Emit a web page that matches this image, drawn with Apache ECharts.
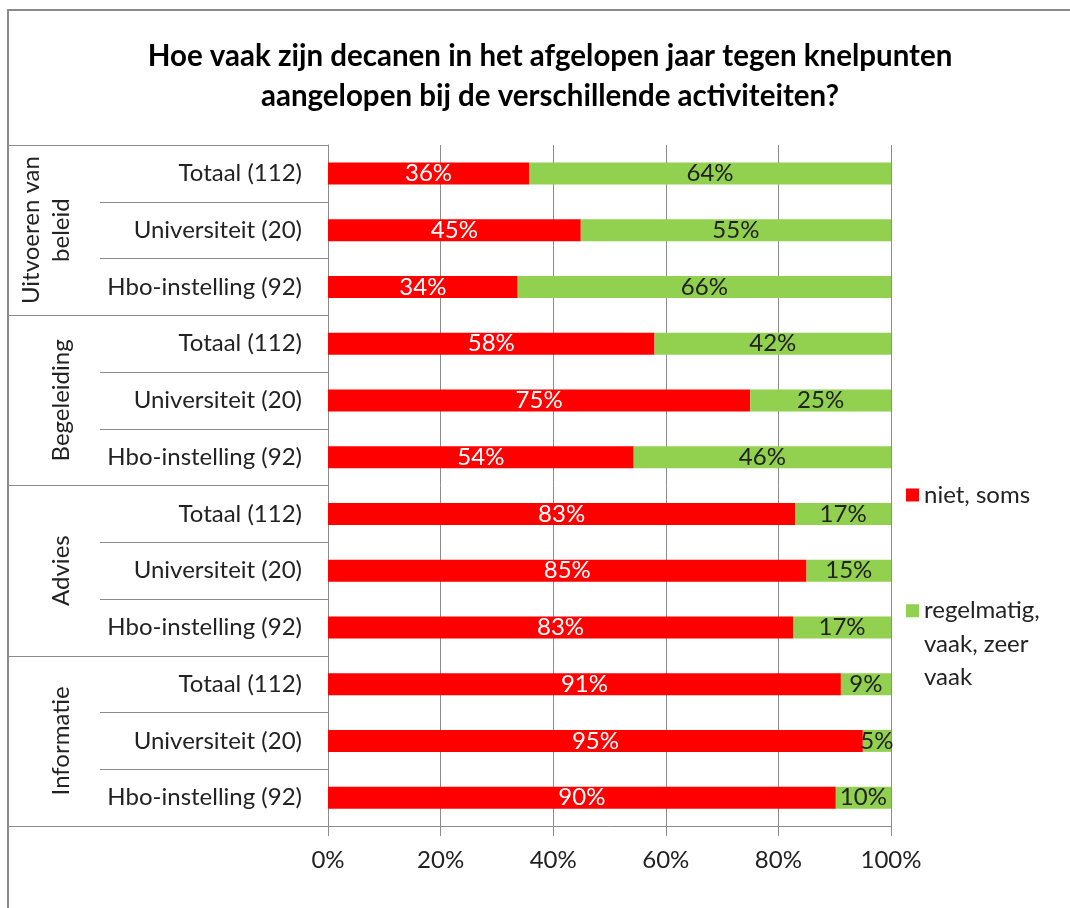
<!DOCTYPE html>
<html>
<head>
<meta charset="utf-8">
<script src="https://cdn.jsdelivr.net/npm/echarts@6/dist/echarts.min.js"></script>
<style>
  html, body { margin: 0; padding: 0; background: #fff; }
  #chart { width: 1070px; height: 908px; }
</style>
</head>
<body>
<div id="chart"></div>
<script>
// rows, top to bottom
const rowLabels = [
  'Totaal (112)', 'Universiteit (20)', 'Hbo-instelling (92)',
  'Totaal (112)', 'Universiteit (20)', 'Hbo-instelling (92)',
  'Totaal (112)', 'Universiteit (20)', 'Hbo-instelling (92)',
  'Totaal (112)', 'Universiteit (20)', 'Hbo-instelling (92)'
]
const groupLabels = ['Uitvoeren van\nbeleid', 'Begeleiding', 'Advies', 'Informatie']
const nietSoms = [35.7, 44.9, 33.7, 58.0, 75.0, 54.3, 83.0, 85.0, 82.6, 91.1, 95.0, 90.2]
const regelmatig = [64.3, 55.1, 66.3, 42.0, 25.0, 45.7, 17.0, 15.0, 17.4, 8.9, 5.0, 9.8]
const seriesNames = ['niet, soms', 'regelmatig, vaak, zeer vaak']

const font = 'Lato'
const fs = 24
const lineColor = '#8c8c8c'
const textColor = '#222'

var myChart = echarts.init(document.getElementById('chart'))

//percentage label shown on each bar segment
const pct = (p) => Math.round(p.value) + '%'

var option = {
  backgroundColor: '#fff',
  textStyle: { fontFamily: font },
  title: {
    text: 'Hoe vaak zijn decanen in het afgelopen jaar tegen knelpunten\naangelopen bij de verschillende activiteiten?',
    left: 545,
    top: 31,
    textAlign: 'center',
    textStyle: { fontFamily: font, fontSize: 29.5, fontWeight: 'bold', color: '#000', lineHeight: 40 }
  },
  legend: [{
    data: [seriesNames[0]],
    orient: 'vertical',
    left: 901,
    top: 478,
    itemWidth: 13,
    itemHeight: 13,
    icon: 'rect',
    textStyle: { fontFamily: font, fontSize: fs, color: textColor }
  }, {
    data: [seriesNames[1]],
    orient: 'vertical',
    left: 901,
    top: 522,
    itemWidth: 13,
    itemHeight: 13,
    icon: 'rect',
    // two empty lines on top keep the square level with the first line
    formatter: () => '\n\nregelmatig,\nvaak, zeer\nvaak',
    textStyle: { fontFamily: font, fontSize: fs, color: textColor, lineHeight: 33.5 }
  }],
  grid: { left: 328, right: 179, top: 145, bottom: 82 },
  xAxis: {
    type: 'value',
    min: 0,
    max: 100,
    interval: 20,
    axisLine: { show: true, lineStyle: { color: lineColor } },
    axisTick: { show: true, length: 10, lineStyle: { color: lineColor } },
    splitLine: { show: true, lineStyle: { color: lineColor } },
    axisLabel: { formatter: '{value}%', fontSize: fs, color: textColor, margin: 22 }
  },
  yAxis: [{
    type: 'category',
    data: rowLabels,
    inverse: true,
    axisLine: { show: true, lineStyle: { color: lineColor } },
    axisTick: { show: true, interval: 0, length: 228, lineStyle: { color: lineColor } },
    axisLabel: { fontSize: fs, color: textColor, margin: 26, interval: 0 }
  }, {
    type: 'category',
    data: groupLabels,
    inverse: true,
    position: 'left',
    axisLine: { show: false },
    axisTick: { show: true, interval: 0, length: 320, lineStyle: { color: lineColor } },
    axisLabel: {
      rotate: 90, fontSize: fs, color: textColor, margin: 252, interval: 0,
      align: 'center', verticalAlign: 'bottom', lineHeight: 30
    }
  }],
  series: [{
    name: seriesNames[0],
    type: 'bar',
    stack: 'total',
    data: nietSoms,
    barWidth: 22,
    itemStyle: { color: '#ff0000' },
    label: { show: true, position: 'inside', formatter: pct, color: '#fff', fontSize: fs, fontFamily: font }
  }, {
    name: seriesNames[1],
    type: 'bar',
    stack: 'total',
    data: regelmatig,
    barWidth: 22,
    itemStyle: { color: '#92d050' },
    label: { show: true, position: 'inside', formatter: pct, color: textColor, fontSize: fs, fontFamily: font }
  }],
  graphic: [{
    type: 'rect',
    shape: { x: 8, y: 10, width: 1200, height: 1000 },
    style: { fill: 'none', stroke: '#8a8a8a', lineWidth: 2 },
    silent: true
  }]
}

myChart.setOption(option)
</script>
</body>
</html>
